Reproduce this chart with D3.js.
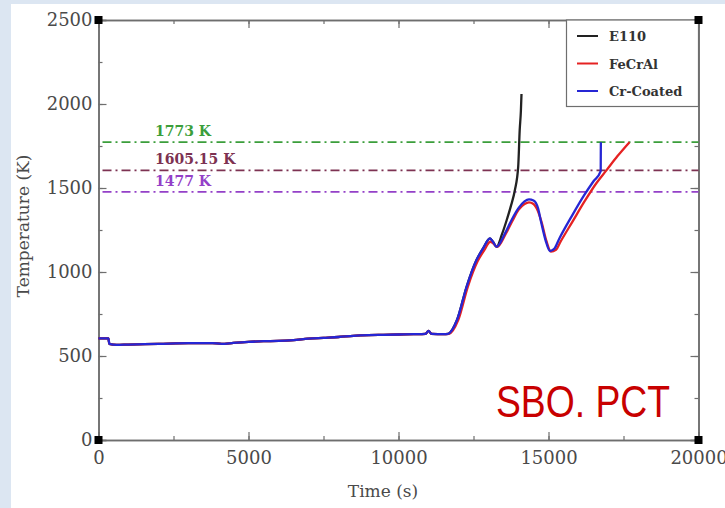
<!DOCTYPE html>
<html>
<head>
<meta charset="utf-8">
<script src="https://cdn.jsdelivr.net/npm/d3@7"></script>
<style>
  html, body { margin: 0; padding: 0; background: #dce6f2; }
  svg { display: block; }
</style>
</head>
<body>
<svg id="chart" width="725" height="508"></svg>
<script>
// Cladding temperature histories (time in s, temperature in K)
const e110Time = [0, 330, 360, 600, 1000, 2000, 3000, 3800, 4100, 4500, 5000, 5500, 6000, 6500, 7000, 7500, 8000, 8500, 9000, 9500, 10000, 10500, 10900, 11000, 11100, 11500, 11650, 11950, 12270, 12600, 12820, 13050, 13150, 13270, 13450, 13600, 13750, 13880, 13990, 14040, 14080, 14100];
const e110Temp = [605, 605, 572, 566, 568, 572, 577, 577, 572, 578, 584, 588, 590, 595, 603, 608, 613, 620, 624, 626, 628, 630, 632, 650, 632, 630, 632, 714, 912, 1071, 1141, 1200, 1180, 1150, 1225, 1305, 1395, 1488, 1627, 1845, 1960, 2060];

const fecralTime = [0, 330, 360, 600, 1000, 2000, 3000, 3800, 4100, 4500, 5000, 5500, 6000, 6500, 7000, 7500, 8000, 8500, 9000, 9500, 10000, 10500, 10900, 11000, 11100, 11500, 11680, 11990, 12310, 12640, 12860, 13060, 13160, 13290, 13560, 13800, 14000, 14200, 14350, 14500, 14650, 14780, 14930, 15080, 15250, 15400, 15800, 16200, 16600, 16930, 17300, 17700];
const fecralTemp = [605, 605, 572, 566, 568, 572, 577, 577, 572, 578, 584, 588, 590, 595, 603, 608, 613, 620, 624, 626, 628, 630, 632, 650, 632, 630, 632, 714, 912, 1065, 1130, 1180, 1170, 1150, 1222, 1305, 1370, 1405, 1415, 1405, 1362, 1290, 1185, 1122, 1132, 1180, 1300, 1420, 1530, 1605, 1690, 1773];

const crTime = [0, 330, 360, 600, 1000, 2000, 3000, 3800, 4100, 4500, 5000, 5500, 6000, 6500, 7000, 7500, 8000, 8500, 9000, 9500, 10000, 10500, 10900, 11000, 11100, 11500, 11650, 11950, 12270, 12600, 12820, 13050, 13150, 13270, 13550, 13770, 14000, 14200, 14350, 14500, 14650, 14750, 14900, 15050, 15200, 15350, 15800, 16200, 16500, 16740, 16745];
const crTemp = [605, 605, 572, 566, 568, 572, 577, 577, 572, 578, 584, 588, 590, 595, 603, 608, 613, 620, 624, 626, 628, 630, 632, 650, 632, 630, 632, 714, 912, 1071, 1141, 1200, 1180, 1150, 1230, 1310, 1380, 1420, 1432, 1425, 1380, 1300, 1190, 1125, 1140, 1195, 1340, 1460, 1540, 1600, 1773];

const seriesNames = ["E110", "FeCrAl", "Cr-Coated"];
const seriesColors = ["#222222", "#e52222", "#2626d4"];

// Temperature limits
const limitValues = [1773, 1605.15, 1477];
const limitLabels = ["1773 K", "1605.15 K", "1477 K"];
const limitColors = ["#3b9e3b", "#7d3252", "#9440c8"];

const xTicks = [0, 5000, 10000, 15000, 20000];
const yTicks = [0, 500, 1000, 1500, 2000, 2500];

const svg = d3.select("#chart");

// white panel
svg.append("rect").attr("x", 11).attr("y", 4).attr("width", 714).attr("height", 504).attr("fill", "#ffffff");

const plotLeft = 98.5, plotRight = 698.5, plotTop = 20, plotBottom = 440;
const x = d3.scaleLinear().domain([0, 20000]).range([plotLeft, plotRight]);
const y = d3.scaleLinear().domain([0, 2500]).range([plotBottom, plotTop]);

const serif = "'DejaVu Serif', 'Liberation Serif', serif";
const axisColor = "#6e6e6e";

function styleAxis(g) {
  g.select(".domain").attr("stroke", axisColor).attr("stroke-width", 1.5);
  g.selectAll(".tick line").attr("stroke", axisColor).attr("stroke-width", 1.2);
  g.selectAll(".tick text").attr("fill", "#4a4a4a").style("font-family", serif).style("font-size", "18px");
}

const minorX = d3.range(0, 20001, 2500);
const minorY = d3.range(0, 2501, 250);

// minor ticks (inward)
svg.append("g").attr("transform", `translate(0,${plotBottom})`)
  .call(d3.axisBottom(x).tickValues(minorX).tickSize(-4).tickFormat(""))
  .call(styleAxis);
svg.append("g").attr("transform", `translate(0,${plotTop})`)
  .call(d3.axisTop(x).tickValues(minorX).tickSize(-4).tickFormat(""))
  .call(styleAxis);
svg.append("g").attr("transform", `translate(${plotLeft},0)`)
  .call(d3.axisLeft(y).tickValues(minorY).tickSize(-4).tickFormat(""))
  .call(styleAxis);
svg.append("g").attr("transform", `translate(${plotRight},0)`)
  .call(d3.axisRight(y).tickValues(minorY).tickSize(-4).tickFormat(""))
  .call(styleAxis);

// major ticks with labels
svg.append("g").attr("transform", `translate(0,${plotBottom})`)
  .call(d3.axisBottom(x).tickValues(xTicks).tickSize(-8).tickPadding(11).tickFormat(d3.format("d")))
  .call(styleAxis);
svg.append("g").attr("transform", `translate(0,${plotTop})`)
  .call(d3.axisTop(x).tickValues(xTicks).tickSize(-8).tickFormat(""))
  .call(styleAxis);
svg.append("g").attr("transform", `translate(${plotLeft},0)`)
  .call(d3.axisLeft(y).tickValues(yTicks).tickSize(-8).tickPadding(6).tickFormat(d3.format("d")))
  .call(styleAxis);
svg.append("g").attr("transform", `translate(${plotRight},0)`)
  .call(d3.axisRight(y).tickValues(yTicks).tickSize(-8).tickFormat(""))
  .call(styleAxis);

// axis titles
svg.append("text").attr("x", 383).attr("y", 497).attr("text-anchor", "middle")
  .style("font-family", serif).style("font-size", "17px").attr("fill", "#4a4a4a").text("Time (s)");
svg.append("text").attr("transform", "translate(29,226) rotate(-90)").attr("text-anchor", "middle")
  .style("font-family", serif).style("font-size", "17px").attr("fill", "#4a4a4a").text("Temperature (K)");

// temperature limit lines
limitValues.forEach((v, i) => {
  svg.append("line").attr("x1", plotLeft + 4).attr("x2", plotRight)
    .attr("y1", y(v)).attr("y2", y(v))
    .attr("stroke", limitColors[i]).attr("stroke-width", 1.6)
    .attr("stroke-dasharray", "9,4,2,4");
  svg.append("text").attr("x", 155).attr("y", y(v) - 6)
    .style("font-family", serif).style("font-size", "14px").style("font-weight", "bold")
    .attr("fill", limitColors[i]).text(limitLabels[i]);
});

// temperature curves
const line = d3.line().curve(d3.curveMonotoneX).x(d => x(d[0])).y(d => y(d[1]));
const series = [
  d3.zip(e110Time, e110Temp),
  d3.zip(fecralTime, fecralTemp),
  d3.zip(crTime, crTemp)
];
series.forEach((pts, i) => {
  svg.append("path").datum(pts).attr("d", line)
    .attr("fill", "none").attr("stroke", seriesColors[i]).attr("stroke-width", 2.3)
    .attr("stroke-linejoin", "round");
});

// legend
const lg = svg.append("g");
lg.append("rect").attr("x", 566.5).attr("y", plotTop).attr("width", plotRight - 566.5).attr("height", 86.5)
  .attr("fill", "#fff").attr("stroke", axisColor).attr("stroke-width", 1.2);
seriesNames.forEach((name, i) => {
  const ly = 36 + i * 27.5;
  lg.append("line").attr("x1", 577).attr("x2", 598).attr("y1", ly).attr("y2", ly)
    .attr("stroke", seriesColors[i]).attr("stroke-width", 2);
  lg.append("text").attr("x", 609).attr("y", ly + 5)
    .style("font-family", serif).style("font-size", "13px").style("font-weight", "bold")
    .attr("fill", "#333").text(name);
});

// corner markers
[[plotLeft, plotTop], [plotRight, plotTop], [plotLeft, plotBottom], [plotRight, plotBottom]].forEach(([cx, cy]) => {
  svg.append("rect").attr("x", cx - 4).attr("y", cy - 4).attr("width", 8).attr("height", 8).attr("fill", "#000");
});

// annotation
svg.append("text").attr("x", 496).attr("y", 417)
  .attr("textLength", 174).attr("lengthAdjust", "spacingAndGlyphs")
  .style("font-family", "'Liberation Sans Narrow', 'Liberation Sans', Arial, sans-serif")
  .style("font-size", "44px").attr("fill", "#c80000").text("SBO. PCT");
</script>
</body>
</html>
